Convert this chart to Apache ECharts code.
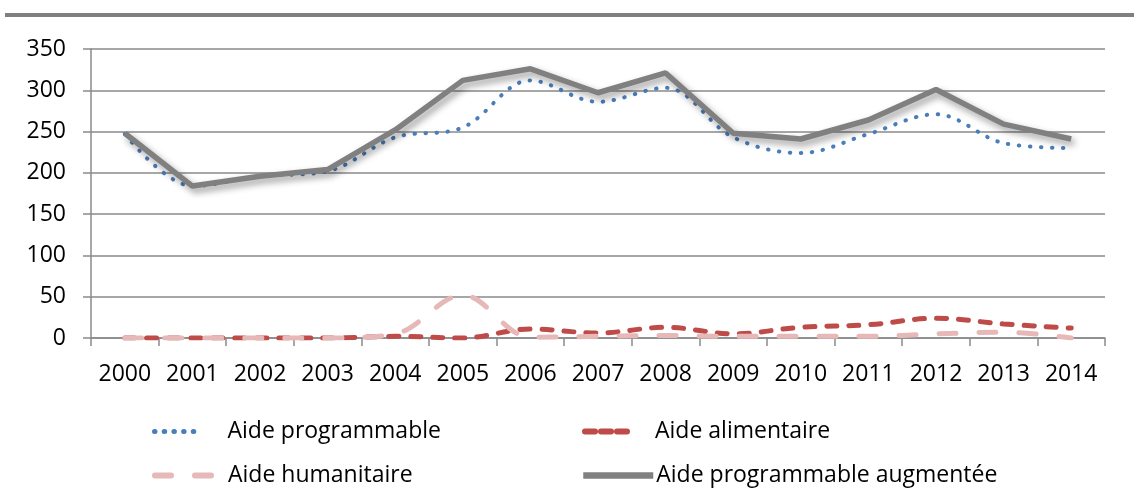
<!DOCTYPE html>
<html>
<head>
<meta charset="utf-8">
<script src="https://cdn.jsdelivr.net/npm/echarts@6/dist/echarts.min.js"></script>
<style>
  html, body { margin: 0; padding: 0; background: #fff; }
  #chart { width: 1134px; height: 489px; }
</style>
</head>
<body>
<div id="chart"></div>
<script>
// annees
var years = ['2000', '2001', '2002', '2003', '2004', '2005', '2006', '2007', '2008', '2009', '2010', '2011', '2012', '2013', '2014']
// series
var aideProgrammable = [247, 184, 196, 202, 243, 255, 312, 286, 303, 243, 224, 247, 271, 236, 230]
var aideAlimentaire = [0, 0, 0, 0, 2, 0, 11, 6, 13, 5, 13, 16, 24, 17, 12]
var aideHumanitaire = [0, 0, 0, 0, 5, 52, 1, 2, 3, 2, 2, 2, 5, 7, 0]
var aideAugmentee = [248, 184, 196, 204, 252, 312, 326, 297, 321, 248, 241, 264, 301, 259, 241]
var yTicks = { min: 0, max: 350, interval: 50 }

var font = 'Open Sans'
var gridColor = '#8a8a8a'

var styles = {
  prog: { color: '#4a7ebb', width: 4, type: [0.5, 10.5], cap: 'round' },
  alim: { color: '#be4b48', width: 5, type: [10, 12], cap: 'round' },
  huma: { color: '#e6b9b8', width: 5, type: [17, 23], cap: 'round' },
  augm: { color: '#808080', width: 5.5, type: 'solid', cap: 'butt' }
}

var chart = echarts.init(document.getElementById('chart'))

function legendAt(name, st, left, top, width, pad, dash) {
  return {
    data: [name],
    left: left,
    top: top,
    padding: 0,
    itemWidth: width,
    itemHeight: 14,
    selectedMode: false,
    itemStyle: { opacity: 0 },
    lineStyle: { width: st.width + 1, type: dash || st.type, cap: st.cap, color: st.color },
    textStyle: {
      fontFamily: font,
      fontSize: 23,
      color: '#000',
      padding: [0, 0, 0, pad]
    }
  }
}

var option = {
  animation: false,
  backgroundColor: '#fff',
  graphic: [
    {
      type: 'rect',
      shape: { x: 5, y: 13, width: 1129, height: 4 },
      style: { fill: '#7f7f7f' }
    }
  ],
  legend: [
    legendAt('Aide programmable', styles.prog, 152, 420, 46, 22, [0.5, 9.2]),
    legendAt('Aide alimentaire', styles.alim, 582, 420, 42, 23, [10, 6]),
    legendAt('Aide humanitaire', styles.huma, 152, 464, 60, 8, [16, 24]),
    legendAt('Aide programmable augmentée', styles.augm, 580, 464, 70, -2)
  ],
  grid: {
    left: 91,
    right: 29,
    top: 49,
    bottom: 151,
    containLabel: false
  },
  xAxis: {
    type: 'category',
    data: years,
    boundaryGap: true,
    axisLine: { lineStyle: { color: gridColor, width: 1.5 } },
    axisTick: { show: true, length: 8, interval: 0, lineStyle: { color: gridColor, width: 1.5 } },
    axisLabel: {
      interval: 0,
      margin: 25,
      color: '#000',
      fontFamily: font,
      fontSize: 23
    }
  },
  yAxis: {
    type: 'value',
    min: yTicks.min,
    max: yTicks.max,
    interval: yTicks.interval,
    axisLine: { show: true, lineStyle: { color: gridColor, width: 1.5 } },
    axisTick: { show: true, length: 8, lineStyle: { color: gridColor, width: 1.5 } },
    splitLine: { lineStyle: { color: gridColor, width: 1.5 } },
    axisLabel: {
      margin: 25,
      color: '#000',
      fontFamily: font,
      fontSize: 23
    }
  },
  series: [
    {
      name: 'Aide programmable',
      type: 'line',
      data: aideProgrammable,
      symbol: 'none',
      smooth: 0.35,
      lineStyle: styles.prog,
      itemStyle: { color: styles.prog.color }
    },
    {
      name: 'Aide alimentaire',
      type: 'line',
      data: aideAlimentaire,
      symbol: 'none',
      smooth: 0.35,
      lineStyle: styles.alim,
      itemStyle: { color: styles.alim.color }
    },
    {
      name: 'Aide humanitaire',
      type: 'line',
      data: aideHumanitaire,
      symbol: 'none',
      smooth: 0.35,
      lineStyle: styles.huma,
      itemStyle: { color: styles.huma.color }
    },
    {
      name: 'Aide programmable augmentée',
      type: 'line',
      data: aideAugmentee,
      symbol: 'none',
      lineStyle: {
        color: styles.augm.color,
        width: styles.augm.width,
        shadowColor: 'rgba(0,0,0,0.4)',
        shadowBlur: 7,
        shadowOffsetX: 3,
        shadowOffsetY: 4
      },
      itemStyle: { color: styles.augm.color }
    }
  ]
}

chart.setOption(option)
</script>
</body>
</html>
